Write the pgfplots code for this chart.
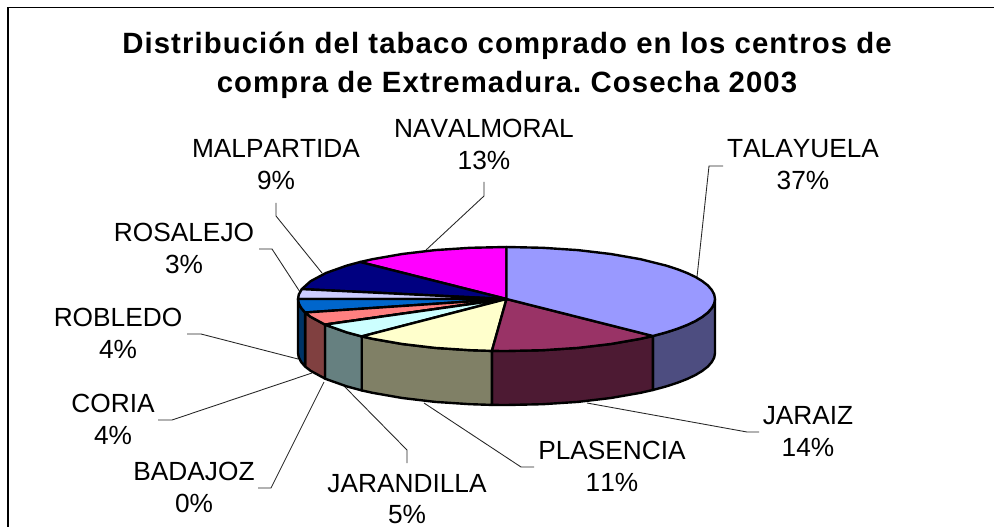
\documentclass[border=0pt]{standalone}
\usepackage{pgfplots}
\pgfplotsset{compat=1.18}
\usepackage{fontspec}
\setmainfont[Kerning=Off]{Liberation Sans}
\newfontfamily\titlefont[Kerning=Off,LetterSpace=3.7]{Liberation Sans}
\definecolor{cTal}{HTML}{9999FF}\definecolor{sTal}{HTML}{4D4D80}
\definecolor{cJar}{HTML}{993366}\definecolor{sJar}{HTML}{4D1A33}
\definecolor{cPla}{HTML}{FFFFCC}\definecolor{sPla}{HTML}{808066}
\definecolor{cJan}{HTML}{CCFFFF}\definecolor{sJan}{HTML}{668080}
\definecolor{cCor}{HTML}{FF8080}\definecolor{sCor}{HTML}{804040}
\definecolor{cRob}{HTML}{0066CC}\definecolor{sRob}{HTML}{003366}
\definecolor{cBad}{HTML}{660066}
\definecolor{cRos}{HTML}{CCCCFF}
\definecolor{cMal}{HTML}{000080}
\definecolor{cNav}{HTML}{FF00FF}
\frenchspacing
\begin{document}
\begin{tikzpicture}[lab/.style={anchor=base,font=\fontsize{19.7pt}{24pt}\selectfont,text=black},
  ttl/.style={anchor=base,font=\fontsize{22pt}{26pt}\titlefont\bfseries,text=black}]
\begin{axis}[scale only axis,width=745.5pt,height=395.25pt,
  xmin=0,xmax=994,ymin=0,ymax=527,y dir=reverse,hide axis,
  pie/.style={draw=black,line width=1.8pt,line join=round},
  lead/.style={draw=black!85,line width=0.65pt}]
% page
\addplot[draw=none,fill=white] coordinates {(0,0)(994,0)(994,527)(0,527)} --cycle;
% frame
\addplot[draw=black,line width=0.9pt] coordinates {(994,7.5)(8,7.5)(8,527)};
% leader lines
\addplot[lead] coordinates {(484,182)(484,196)(426,250)};
\addplot[lead] coordinates {(276,203)(276,216)(322,273)};
\addplot[lead] coordinates {(259,249)(272,249)(300,292)};
\addplot[lead] coordinates {(723,166)(709,166)(697,277)};
\addplot[lead] coordinates {(187,334)(201,334)(298,359)};
\addplot[lead] coordinates {(158,420)(172,420)(312,373)};
\addplot[lead] coordinates {(258,488)(271,488)(324,382)};
\addplot[lead] coordinates {(407,463)(407,450)(344,386)};
\addplot[lead] coordinates {(534,467)(521,467)(424,403)};
\addplot[lead] coordinates {(759,432)(747,432)(587,403)};
% side walls
\addplot[pie,fill=sTal] coordinates {(715,299)(714.2,303.5)(711.8,308)(707.9,312.5)(702.4,316.8)(695.5,321)(687.1,325)(677.3,328.8)(666.2,332.4)(652.9,336)(652.9,390)(666.2,386.4)(677.3,382.8)(687.1,379)(695.5,375)(702.4,370.8)(707.9,366.5)(711.8,362)(714.2,357.5)(715,353)} --cycle;
\addplot[pie,fill=sJar] coordinates {(652.9,336)(640.5,338.8)(610.8,344)(577.8,347.9)(542.7,350.2)(506.5,351)(491.9,350.9)(491.9,404.9)(506.5,405)(542.7,404.2)(577.8,401.9)(610.8,398)(640.5,392.8)(652.9,390)} --cycle;
\addplot[pie,fill=sPla] coordinates {(491.9,350.9)(470.3,350.2)(435.2,347.9)(402.2,344)(372.5,338.8)(361.7,336.4)(361.7,390.4)(372.5,392.8)(402.2,398)(435.2,401.9)(470.3,404.2)(491.9,404.9)} --cycle;
\addplot[pie,fill=sJan] coordinates {(361.7,336.4)(346.8,332.4)(325.9,325)(325,324.6)(325,378.6)(325.9,379)(346.8,386.4)(361.7,390.4)} --cycle;
\addplot[pie,fill=sCor] coordinates {(325,324.6)(310.6,316.8)(305.1,312.5)(305.1,366.5)(310.6,370.8)(325,378.6)} --cycle;
\addplot[pie,fill=sRob] coordinates {(305.1,312.5)(301.2,308)(298.8,303.5)(298,299)(298,353)(298.8,357.5)(301.2,362)(305.1,366.5)} --cycle;
% top faces
\addplot[pie,fill=cNav] coordinates {(506.5,299)(360.1,262)(372.5,259.2)(402.2,254)(435.2,250.1)(470.3,247.8)(506.5,247)} --cycle;
\addplot[pie,fill=cMal] coordinates {(506.5,299)(301.8,289.1)(310.6,281.2)(325.9,273)(346.8,265.6)(360.1,262)} --cycle;
\addplot[pie,fill=cRos] coordinates {(506.5,299)(298,299)(298.8,294.5)(301.8,289.1)} --cycle;
\addplot[pie,fill=cRob] coordinates {(506.5,299)(305.1,312.5)(301.2,308)(298.8,303.5)(298,299)} --cycle;
\addplot[pie,fill=cCor] coordinates {(506.5,299)(325,324.6)(310.6,316.8)(305.1,312.5)} --cycle;
\addplot[pie,fill=cBad] coordinates {(506.5,299)(325,324.6)} --cycle;
\addplot[pie,fill=cJan] coordinates {(506.5,299)(361.7,336.4)(346.8,332.4)(325.9,325)(325,324.6)} --cycle;
\addplot[pie,fill=cPla] coordinates {(506.5,299)(491.9,350.9)(470.3,350.2)(435.2,347.9)(402.2,344)(372.5,338.8)(361.7,336.4)} --cycle;
\addplot[pie,fill=cJar] coordinates {(506.5,299)(652.9,336)(640.5,338.8)(610.8,344)(577.8,347.9)(542.7,350.2)(506.5,351)(491.9,350.9)} --cycle;
\addplot[pie,fill=cTal] coordinates {(506.5,299)(506.5,247)(542.7,247.8)(577.8,250.1)(610.8,254)(640.5,259.2)(666.2,265.6)(677.3,269.2)(687.1,273)(695.5,277)(702.4,281.2)(707.9,285.5)(711.8,290)(714.2,294.5)(715,299)(714.2,303.5)(711.8,308)(707.9,312.5)(702.4,316.8)(695.5,321)(687.1,325)(677.3,328.8)(666.2,332.4)(652.9,336)} --cycle;
% title
\node[ttl] at (axis cs:507,53.5) {Distribución del tabaco comprado en los centros de};
\node[ttl] at (axis cs:507,92.5) {compra de Extremadura. Cosecha 2003};
% labels
\node[lab] at (axis cs:803,157.5) {TALAYUELA};
\node[lab] at (axis cs:803,189.5) {37\%};
\node[lab] at (axis cs:484,137.5) {NAVALMORAL};
\node[lab] at (axis cs:484,169.5) {13\%};
\node[lab] at (axis cs:276,157.5) {MALPARTIDA};
\node[lab] at (axis cs:276,189.5) {9\%};
\node[lab] at (axis cs:184,241.5) {ROSALEJO};
\node[lab] at (axis cs:184,273.5) {3\%};
\node[lab] at (axis cs:118,326) {ROBLEDO};
\node[lab] at (axis cs:118,358) {4\%};
\node[lab] at (axis cs:113,412) {CORIA};
\node[lab] at (axis cs:113,444) {4\%};
\node[lab] at (axis cs:194,480) {BADAJOZ};
\node[lab] at (axis cs:194,512) {0\%};
\node[lab] at (axis cs:407,492.5) {JARANDILLA};
\node[lab] at (axis cs:407,523) {5\%};
\node[lab] at (axis cs:612,459.5) {PLASENCIA};
\node[lab] at (axis cs:612,491.5) {11\%};
\node[lab] at (axis cs:808,424) {JARAIZ};
\node[lab] at (axis cs:808,456) {14\%};
\end{axis}
\end{tikzpicture}
\end{document}
